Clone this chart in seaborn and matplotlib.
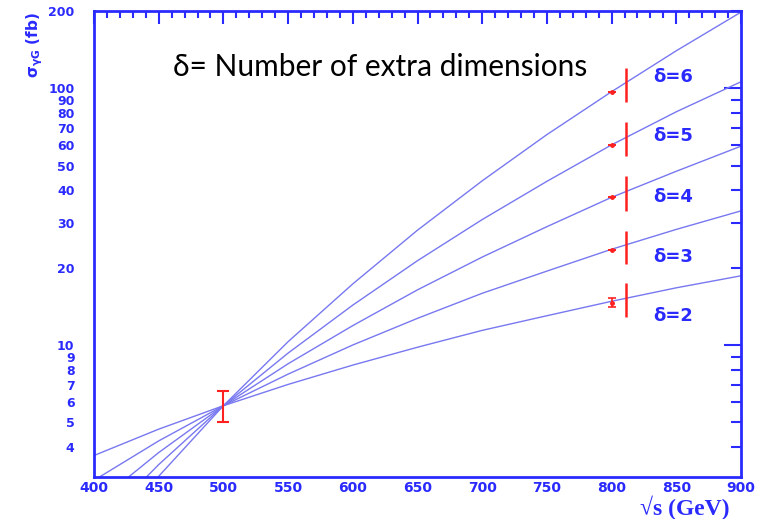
import numpy as np
import pandas as pd
import matplotlib
matplotlib.use("Agg")
import matplotlib.pyplot as plt
import seaborn as sns
from matplotlib.ticker import FixedLocator, FixedFormatter, MultipleLocator

# sqrt(s) grid (GeV) and cross sections (fb)
rs = [400, 450, 500, 550, 600, 650, 700, 750, 800, 850, 900]
sigma_d2 = [3.71, 4.70, 5.80, 7.02, 8.35, 9.80, 11.4, 13.0, 14.8, 16.7, 18.6]
sigma_d3 = [2.97, 4.23, 5.80, 7.70, 10.0, 12.7, 15.9, 19.4, 23.6, 28.2, 33.3]
sigma_d4 = [2.38, 3.81, 5.80, 8.45, 11.9, 16.4, 22.0, 28.9, 37.6, 47.5, 59.5]
sigma_d5 = [1.90, 3.42, 5.80, 9.30, 14.3, 21.3, 30.8, 43.4, 60.2, 81.0, 106.0]
sigma_d6 = [1.52, 3.08, 5.80, 10.3, 17.3, 28.0, 43.6, 66.0, 97.0, 140.0, 198.0]
deltas = [2, 3, 4, 5, 6]

# measured points at 800 GeV
pt_x = 800
pt_y = [14.6, 23.5, 37.8, 60.0, 96.7]
pt_err = [0.6, 0.0, 0.0, 0.0, 0.0]

# common point at 500 GeV
ref_x = 500
ref_y = 5.8
ref_lo, ref_hi = 5.0, 6.6

# red vertical markers at ~811 GeV
bar_x = 811
bar_lo = [12.8, 20.7, 33.4, 54.3, 88.2]
bar_hi = [17.5, 27.9, 45.7, 73.6, 119.7]

# delta labels
lab_x = 832
lab_y = [13.0, 22.0, 37.8, 64.9, 111.0]

yticks = [4, 5, 6, 7, 8, 9, 10, 20, 30, 40, 50, 60, 70, 80, 90, 100, 200]

sns.set_style("white")
plt.rcParams["font.family"] = ["DejaVu Sans"]

blue = "#2a2aff"
line_c = "#7878f0"
red = "#ff2020"

series = [sigma_d2, sigma_d3, sigma_d4, sigma_d5, sigma_d6]
df = pd.DataFrame({
    "rs": rs * len(deltas),
    "sigma": [v for s in series for v in s],
    "delta": [d for d in deltas for _ in rs],
})

fig = plt.figure(figsize=(7.6, 5.19), dpi=100)
ax = fig.add_axes([94 / 760, 1 - 477 / 519, 647 / 760, 466 / 519])

sns.lineplot(data=df, x="rs", y="sigma", units="delta", estimator=None,
             color=line_c, lw=1.0, ax=ax)

ax.set_yscale("log")
ax.set_xlim(400, 900)
ax.set_ylim(3.06, 200)

# 500 GeV reference error bar
ax.errorbar([ref_x], [ref_y], yerr=[[ref_y - ref_lo], [ref_hi - ref_y]],
            fmt="none", ecolor=red, elinewidth=1.5, capsize=4, capthick=1.5, zorder=5)
# 800 GeV points
ax.errorbar([pt_x] * len(pt_y), pt_y, yerr=pt_err, fmt="o", ms=2.5,
            color=red, ecolor=red, elinewidth=1.2, capsize=3, capthick=1.2, zorder=5)
# vertical red markers
ax.vlines([bar_x] * len(bar_lo), bar_lo, bar_hi, color=red, lw=1.8, zorder=5)

for d, y in zip(deltas, lab_y):
    ax.text(lab_x, y, f"\u03b4={d}", color=blue, fontsize=13, fontweight="bold",
            va="center", ha="left")

ax.text((173 - 94) / 647, (477 - 67) / 466, "\u03b4= Number of extra dimensions",
        transform=ax.transAxes, fontsize=21.5, color="black",
        family=["Lato", "DejaVu Sans"], va="center", ha="left")

# axes styling
for sp in ax.spines.values():
    sp.set_color(blue)
    sp.set_linewidth(2)

ax.xaxis.set_major_locator(MultipleLocator(50))
ax.xaxis.set_minor_locator(MultipleLocator(10))
ax.yaxis.set_major_locator(FixedLocator([10, 100]))
ax.yaxis.set_major_formatter(FixedFormatter(["10", "100"]))
minor = [t for t in yticks if t not in (10, 100)]
ax.yaxis.set_minor_locator(FixedLocator(minor))
ax.yaxis.set_minor_formatter(FixedFormatter([str(t) for t in minor]))

ax.tick_params(which="both", direction="in", top=True, right=True,
               color=blue, labelcolor=blue, width=1.5)
ax.tick_params(axis="x", which="major", length=9, labelsize=10, pad=3)
ax.tick_params(axis="x", which="minor", length=5)
ax.tick_params(axis="y", which="major", length=12, labelsize=9, pad=14)
ax.tick_params(axis="y", which="minor", length=7, labelsize=9, pad=14)
for lbl in ax.get_xticklabels() + ax.get_yticklabels(which="both"):
    lbl.set_fontweight("bold")

ax.set_xlabel("")
ax.set_ylabel("")
fig.text(640 / 760, 1 - 508 / 519, "\u221as (GeV)", color=blue, fontsize=17,
         fontweight="bold", family=["Liberation Serif", "DejaVu Serif"],
         va="center", ha="left")
fig.text(35 / 760, 1 - 45 / 519, r"$\mathbf{\sigma_{\gamma G}}$ (fb)", color=blue,
         fontsize=11, fontweight="bold", rotation=90, va="center", ha="center")

fig.savefig("out.png", dpi=100)
